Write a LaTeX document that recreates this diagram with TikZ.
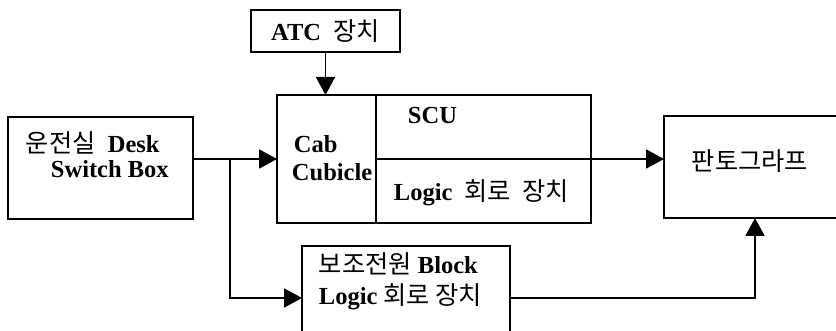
\documentclass[tikz,border=0pt]{standalone}
\usepackage{fontspec}
\setmainfont{Liberation Serif}
\newfontfamily\krfont{Noto Sans CJK KR}[Scale=1.03]
\usetikzlibrary{calc,positioning,arrows.meta}
\newcommand{\kor}[1]{{\krfont\mdseries #1}}

\begin{document}
\begin{tikzpicture}[x=1pt, y=-1pt, line width=1.9pt,
    blk/.style={draw, shape=rectangle, inner sep=0pt, outer sep=0pt},
    txt/.style={font=\fontsize{24.5}{28}\selectfont\bfseries, inner sep=0pt, anchor=west},
    arr/.style={-{Triangle[length=18pt,width=19pt]}}]
\useasboundingbox (0,0) rectangle (836,331);
\clip (0,0) rectangle (836,331);
% boxes
\node[blk, minimum width=149pt, minimum height=42pt, font=\fontsize{24.5}{28}\selectfont\bfseries] (atc) at (325.5,31) {ATC\ \ \kor{장치}};
\node[blk, minimum width=99pt, minimum height=128pt] (cab) at (326.5,159) {};
\node[blk, minimum width=215pt, minimum height=128pt, right=0pt of cab] (scu) {};
\node[blk, minimum width=185pt, minimum height=102pt] (desk) at (100.5,168) {};
\node[blk, minimum width=182pt, minimum height=102pt] (panto) at (755,167) {};
\node[blk, minimum width=208pt, minimum height=104pt] (aux) at (406,298) {};
% texts
\node[txt] (desk-a) at (25,143) {\kor{운전실}\ \ Desk};
\node[txt] (desk-b) at (50,169) {Switch Box};
\node[txt] (cab-a) at (293,144) {Cab};
\node[txt] (cab-b) at (291,172) {Cubicle};
\node[txt] (scu-a) at (407,116) {SCU};
\node[txt] (scu-b) at (393,193) {Logic\ \ \kor{회로\ \ 장치}};
\node[txt] (aux-a) at (318,264) {\kor{보조전원} Block};
\node[txt] (aux-b) at (318,297) {Logic \kor{회로 장치}};
\node[txt, anchor=center] (panto-a) at (750,161) {\kor{판토그라프}};
% connectors
\coordinate (jn) at ($(desk.east |- cab.west)!0.44!(cab.west)$);
\draw[arr] (atc.south) -- (atc.south |- cab.north);
\draw (scu.west) -- (scu.east);
\draw[arr] (scu.east) -- (scu.east -| panto.west);
\draw[arr] (desk.east |- cab.west) -- (cab.west);
\draw[arr] (jn) |- (aux.west);
\draw[arr] (aux.east) -| (panto.south);
\end{tikzpicture}
\end{document}
